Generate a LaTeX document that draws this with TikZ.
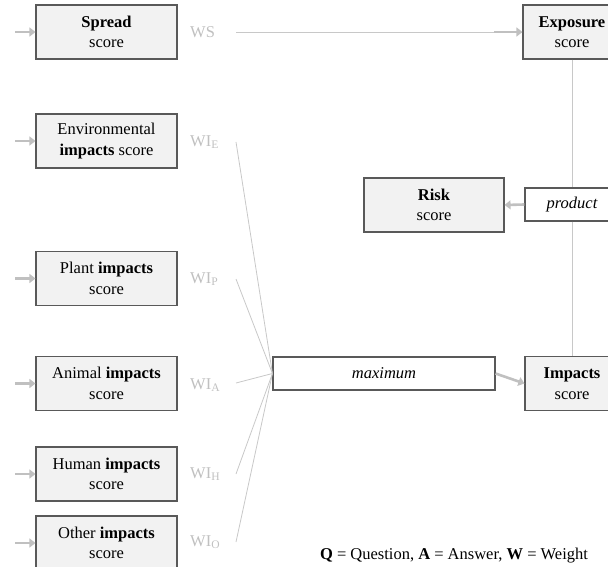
\documentclass[tikz,border=0pt]{standalone}
\usepackage{fontspec}
\setmainfont{Liberation Serif}
\usepackage{tikz}
\usetikzlibrary{arrows.meta}
\usetikzlibrary{positioning}
\usepackage{xcolor}
\definecolor{boxline}{HTML}{595959}
\definecolor{boxfill}{HTML}{F2F2F2}
\definecolor{wgray}{HTML}{C0C0C0}
\definecolor{lgray}{HTML}{C8C8C8}
\tikzset{
    scorebox/.style={
        draw=boxline,
        fill=boxfill,
        line width=1.1pt,
        align=center,
        minimum width=141pt,
        minimum height=54pt,
        inner sep=1pt,
        font=\fontsize{16.5}{20.5}\selectfont
    },
    opbox/.style={
        draw=boxline,
        fill=white,
        line width=1.1pt,
        minimum height=33pt,
        inner sep=1pt,
        font=\fontsize{16.5}{20.5}\selectfont\itshape
    },
    wlabel/.style={
        text=wgray,
        anchor=west,
        inner sep=0pt,
        font=\fontsize{16.5}{20.5}\selectfont
    },
    link/.style={
        draw=lgray,
        line width=0.8pt
    },
    flow/.style={
        draw=wgray,
        line width=2.6pt,
        -{Triangle[length=6pt, width=9pt]}
    }
}

\begin{document}
\begin{tikzpicture}[x=1pt, y=-1pt]
    \clip (0,0) rectangle (608,567);
    % Score boxes
    \node[scorebox] (spread) at (106.5,32) {\textbf{Spread}\\score};
    \node[scorebox] (env) at (106.5,141) {Environmental\\\textbf{impacts} score};
    \node[scorebox] (plant) at (106.5,278.5) {Plant \textbf{impacts}\\score};
    \node[scorebox] (animal) at (106.5,383.5) {Animal \textbf{impacts}\\score};
    \node[scorebox] (human) at (106.5,474) {Human \textbf{impacts}\\score};
    \node[scorebox] (other) at (106.5,543) {Other \textbf{impacts}\\score};
    \node[scorebox, minimum width=98pt] (exposure) at (572,32) {\textbf{Exposure}\\score};
    \node[scorebox, minimum width=140pt] (risk) at (434,205) {\textbf{Risk}\\score};
    \node[scorebox, minimum width=94pt] (impacts) at (572,383.5) {\textbf{Impacts}\\score};

    % Operators
    \node[opbox, minimum width=94pt] (product) at (572,204.5) {product};
    \node[opbox, minimum width=222pt] (maximum) at (384,373.5) {maximum};

    % Weights
    \node[wlabel] (wS) at (190,32) {WS};
    \node[wlabel] (wE) at (190,142) {WI\textsubscript{E}};
    \node[wlabel] (wP) at (190,279) {WI\textsubscript{P}};
    \node[wlabel] (wA) at (190,385) {WI\textsubscript{A}};
    \node[wlabel] (wH) at (190,474) {WI\textsubscript{H}};
    \node[wlabel] (wO) at (190,542) {WI\textsubscript{O}};
    \coordinate (sS) at (236,32);
    \coordinate (sE) at (236,142);
    \coordinate (sP) at (236,279);
    \coordinate (sA) at (236,383);
    \coordinate (sH) at (236,474);
    \coordinate (sO) at (236,542);

    % Inputs
    \draw[flow] ([xshift=-20pt]spread.west) -- (spread.west);
    \draw[flow] ([xshift=-20pt]env.west) -- (env.west);
    \draw[flow] ([xshift=-20pt]plant.west) -- (plant.west);
    \draw[flow] ([xshift=-20pt]animal.west) -- (animal.west);
    \draw[flow] ([xshift=-20pt]human.west) -- (human.west);
    \draw[flow] ([xshift=-20pt]other.west) -- (other.west);

    % Edges
    \draw[link] (sS) -- (exposure.west);
    \draw[flow] ([xshift=-28pt]exposure.west) -- (exposure.west);
    \draw[link] (sE) -- (maximum.west);
    \draw[link] (sP) -- (maximum.west);
    \draw[link] (sA) -- (maximum.west);
    \draw[link] (sH) -- (maximum.west);
    \draw[link] (sO) -- (maximum.west);
    \draw[flow] (maximum.east) -- (impacts.west);
    \draw[link] (exposure.south) -- (product.north);
    \draw[link] (product.south) -- (impacts.north);
    \draw[flow] (product.west) -- (risk.east);

    % Legend
    \node[font=\fontsize{16.5}{20.5}\selectfont] (legend) at (454,556) {\textbf{Q} = Question, \textbf{A} = Answer, \textbf{W} = Weight};
\end{tikzpicture}
\end{document}
